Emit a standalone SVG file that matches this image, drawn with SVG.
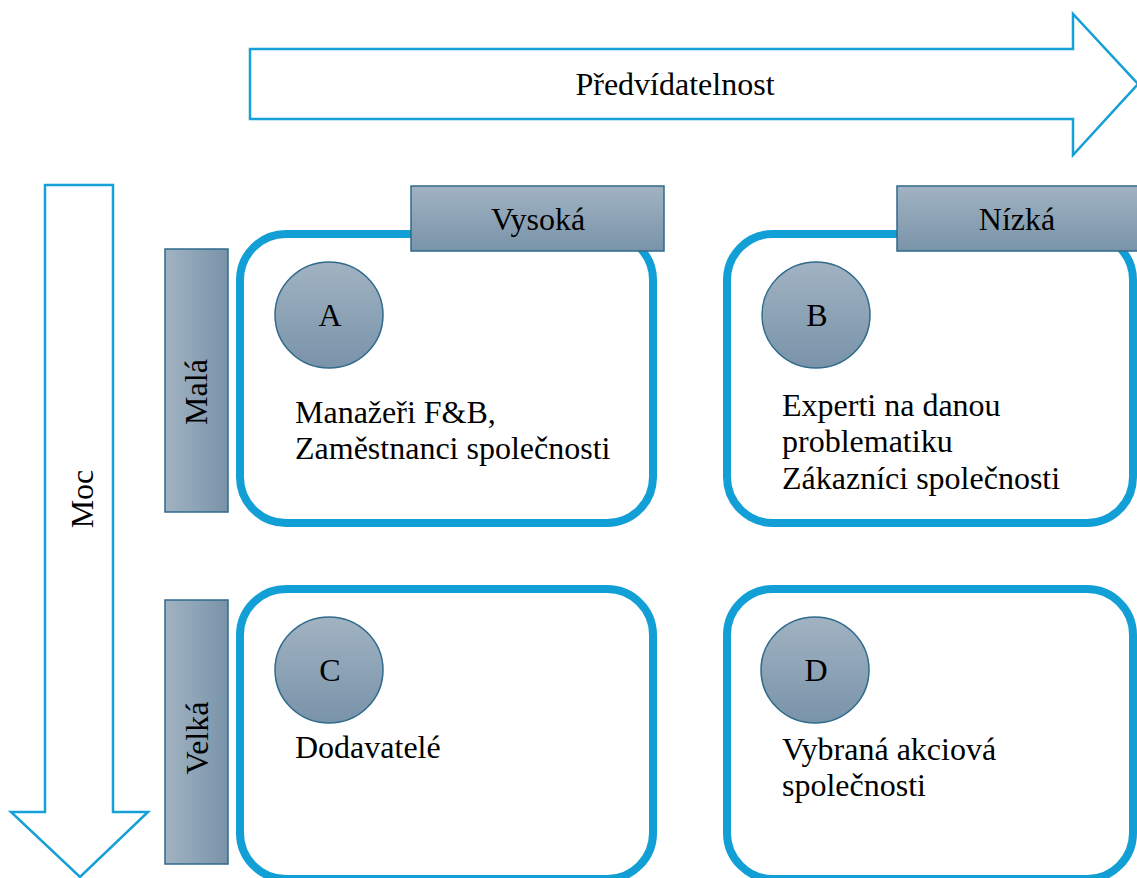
<svg xmlns="http://www.w3.org/2000/svg" width="1137" height="878" viewBox="0 0 1137 878">
<defs>
<linearGradient id="gv" x1="0" y1="0" x2="0" y2="1">
<stop offset="0" stop-color="#a1b3c2"/>
<stop offset="1" stop-color="#7993a9"/>
</linearGradient>
<linearGradient id="gh" x1="0" y1="0" x2="1" y2="0">
<stop offset="0" stop-color="#a1b3c2"/>
<stop offset="1" stop-color="#7993a9"/>
</linearGradient>
<style>
text{font-family:"Liberation Serif","Times New Roman",serif;font-size:32px;fill:#000}
.arrow{fill:#fff;stroke:#17a0d7;stroke-width:2.5}
.box{fill:#fff;stroke:#129fd6;stroke-width:8}
.hdr{fill:url(#gv);stroke:#2f6a8c;stroke-width:1.5}
.side{fill:url(#gh);stroke:#2f6a8c;stroke-width:1.5}
.circ{fill:url(#gv);stroke:#2f6a8c;stroke-width:1.5}
.m{text-anchor:middle}
</style>
</defs>
<rect width="1137" height="878" fill="#fff"/>
<g id="axis-predvidatelnost">
<polygon class="arrow" points="250,49 1073,49 1073,14 1138,84 1073,155 1073,119 250,119"/>
<text class="m" x="675" y="95">Předvídatelnost</text>
</g>
<g id="axis-moc">
<polygon class="arrow" points="45,185 113,185 113,812 148,812 80,877 11,812 45,812"/>
<text class="m" transform="translate(93,499) rotate(-90)">Moc</text>
</g>
<g id="box-a">
<rect class="box" x="240" y="234" width="413" height="289" rx="46"/>
<ellipse class="circ" cx="329" cy="315" rx="54" ry="53"/>
<text class="m" x="330" y="326">A</text>
<text x="295" y="423">Manažeři F&amp;B,</text>
<text x="295" y="459">Zaměstnanci společnosti</text>
</g>
<g id="box-b">
<rect class="box" x="727" y="234" width="406" height="289" rx="46"/>
<ellipse class="circ" cx="816" cy="315" rx="54" ry="53"/>
<text class="m" x="817" y="326">B</text>
<text x="782" y="416">Experti na danou</text>
<text x="782" y="452">problematiku</text>
<text x="782" y="489">Zákazníci společnosti</text>
</g>
<g id="box-c">
<rect class="box" x="240" y="589" width="413" height="290" rx="46"/>
<ellipse class="circ" cx="329" cy="670" rx="54" ry="53"/>
<text class="m" x="330" y="681">C</text>
<text x="295" y="758">Dodavatelé</text>
</g>
<g id="box-d">
<rect class="box" x="727" y="589" width="406" height="290" rx="46"/>
<ellipse class="circ" cx="815" cy="670" rx="54" ry="53"/>
<text class="m" x="816" y="681">D</text>
<text x="782" y="760">Vybraná akciová</text>
<text x="782" y="796">společnosti</text>
</g>
<g id="hdr-vysoka">
<rect class="hdr" x="411" y="186" width="253" height="65"/>
<text class="m" x="538" y="230">Vysoká</text>
</g>
<g id="hdr-nizka">
<rect class="hdr" x="897" y="186" width="250" height="65"/>
<text class="m" x="1017" y="230">Nízká</text>
</g>
<g id="side-mala">
<rect class="side" x="165" y="249" width="63" height="263"/>
<text class="m" transform="translate(207,392) rotate(-90)">Malá</text>
</g>
<g id="side-velka">
<rect class="side" x="165" y="600" width="63" height="264"/>
<text class="m" transform="translate(208,738) rotate(-90)">Velká</text>
</g>
</svg>
